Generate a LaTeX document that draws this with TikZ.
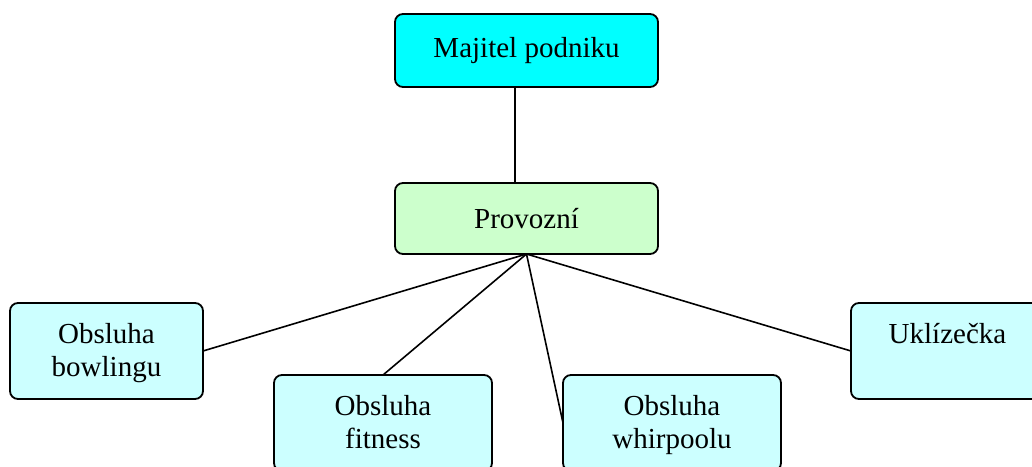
\documentclass[tikz,border=0pt]{standalone}
\usepackage{fontspec}
\setmainfont{Liberation Serif}
\definecolor{topcyan}{RGB}{0,255,255}
\definecolor{midgreen}{RGB}{204,255,204}
\definecolor{lowcyan}{RGB}{204,255,255}
\newcommand{\mytopstrut}{\rule{0pt}{28pt}}
\begin{document}
\begin{tikzpicture}[x=1pt,y=-1pt,
  boxbase/.style={draw=black,line width=1.8pt,rounded corners=8pt,inner sep=0pt,outer sep=0pt,
    align=center,font=\fontsize{29}{33}\selectfont},
  topbox/.style={boxbase,fill=topcyan,minimum width=263pt,minimum height=73pt},
  midbox/.style={boxbase,fill=midgreen,minimum width=263pt,minimum height=71pt},
  lowbox/.style={boxbase,fill=lowcyan,minimum height=96pt},
  link/.style={draw=black,line width=1.6pt}]
\useasboundingbox (0,0) rectangle (1032,466);
\clip (0,0) rectangle (1032,466);
\node[topbox] (maj) at (526.5,50.5) {Majitel podniku};
\node[midbox] (prov) at (526.5,218.5) {Provozní};
\node[lowbox,minimum width=193pt] (bowl) at (106.5,351) {\mytopstrut Obsluha\\bowlingu\strut};
\node[lowbox,minimum width=218pt] (fit) at (383,423) {\mytopstrut Obsluha\\fitness\strut};
\node[lowbox,minimum width=218pt] (whir) at (672,423) {\mytopstrut Obsluha\\whirpoolu\strut};
\node[lowbox,minimum width=193pt] (ukl) at (947.5,351) {\mytopstrut Uklízečka\\\strut};
\draw[link] ([xshift=-11.5pt]maj.south) -- ([xshift=-11.5pt]prov.north);
\draw[link] (prov.south) -- (bowl.east);
\draw[link] (prov.south) -- (fit.north);
\draw[link] (prov.south) -- (whir.west);
\draw[link] (prov.south) -- (ukl.west);
\end{tikzpicture}
\end{document}
